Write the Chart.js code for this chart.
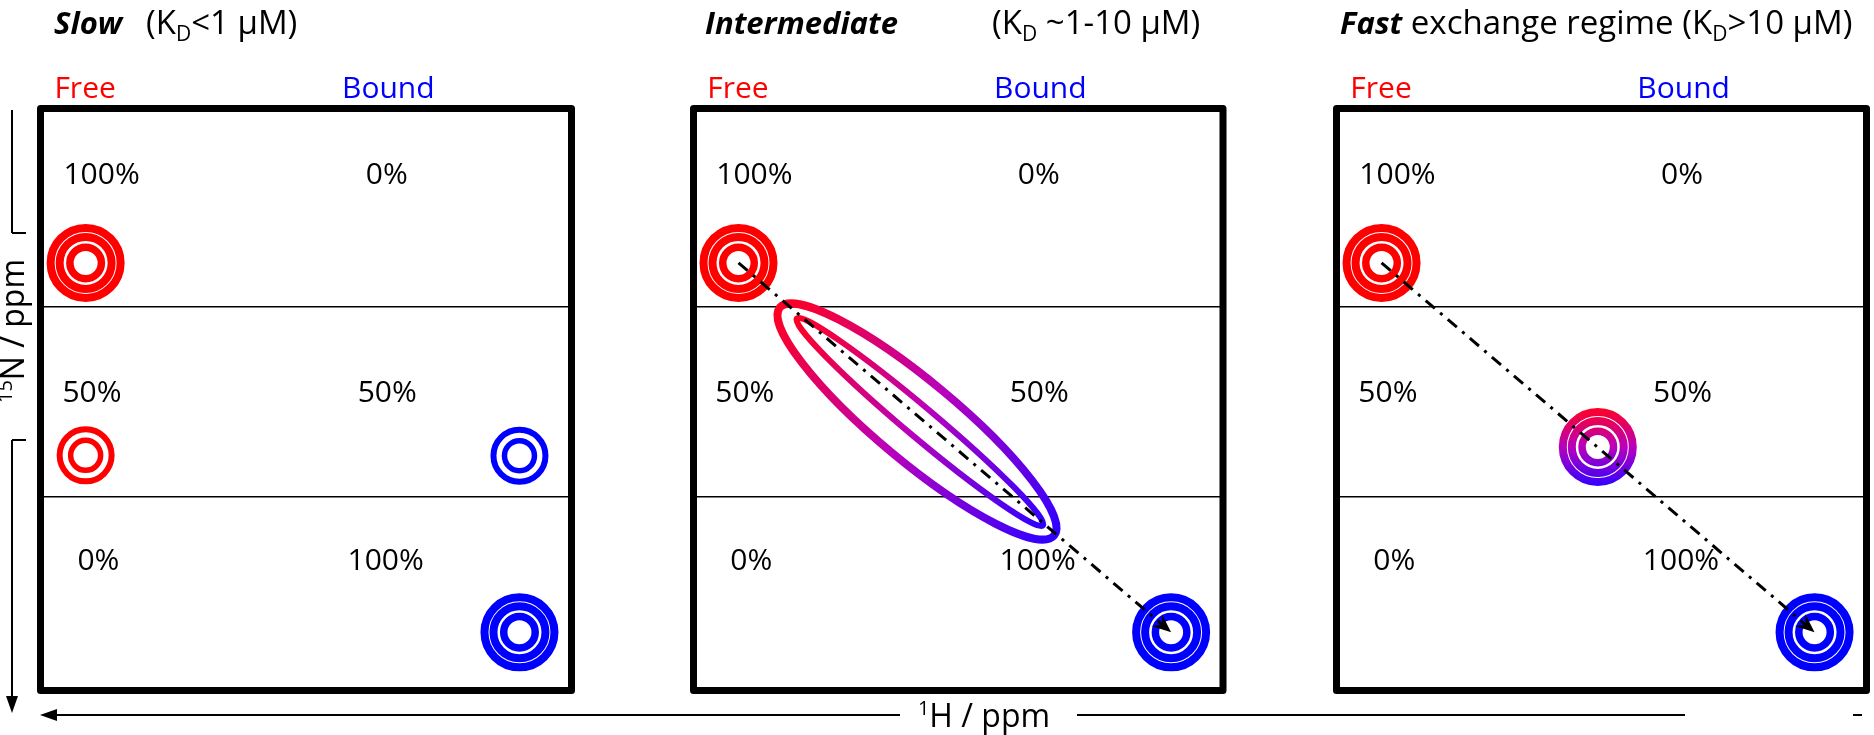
<!DOCTYPE html>
<html lang="en">
<head>
<meta charset="utf-8">
<title>Exchange regimes in 1H-15N HSQC titrations</title>
<script src="https://cdn.jsdelivr.net/npm/chart.js@4.4.1/dist/chart.umd.min.js"></script>
<style>
  html, body { margin: 0; padding: 0; background: #ffffff; }
  #stage { position: relative; width: 1874px; height: 735px; overflow: hidden; }
  .panel { position: absolute; }
  #annotations { position: absolute; left: 0; top: 0; pointer-events: none; }
  #annotations text { font-family: "Open Sans", "DejaVu Sans", sans-serif; fill: #000; }
  #annotations .t { font-size: 33px; }
  #annotations .tb { font-size: 31px; font-weight: 700; font-style: italic; }
  #annotations .ax { font-size: 32px; }
</style>
</head>
<body>
<div id="stage">
  <svg id="annotations" width="1874" height="735"></svg>
</div>
<script>
// ---------------- data ----------------
// Exchange regimes, one panel each
const regimeNames = ['Slow', 'Intermediate', 'Fast'];
const regimeNoteLead = ['(K', '(K', 'exchange regime (K'];
const regimeNoteSub = ['D', 'D', 'D'];
const regimeNoteTail = ['<1 \u03bcM)', ' ~1-10 \u03bcM)', '>10 \u03bcM)'];

// Column headers (state of the protein) and their 1H positions
const stateNames = ['Free', 'Bound'];
const stateNameX = [8.4, 65.5];

// Titration steps: population of free / bound protein
const fractionFree = ['100%', '50%', '0%'];
const fractionBound = ['0%', '50%', '100%'];
const fractionRowY = [33.2, 145.6, 232.5];
const fractionFreeX = [11.5, 9.7, 10.9];
const fractionBoundX = [65.2, 65.3, 65.0];

// 15N extent of each titration step (three steps stacked)
const stepBounds = [0, 102, 200, 300];

// Peak positions (1H, 15N) in panel units
const peakFree = { x: 8.5, y: 79.6 };
const peakBound = { x: 90.2, y: 270.0 };
const slowHalfFree = { x: 8.5, y: 178.8 };
const slowHalfBound = { x: 90.2, y: 179.0 };
const fastHalf = { x: 49.3, y: 174.5 };
// Broadened intermediate-exchange contours: ends of the long axis
const broadOuterTips = [{ x: 16.3, y: 102.6 }, { x: 68.1, y: 220.1 }];
const broadInnerTips = [{ x: 19.5, y: 108.2 }, { x: 66.0, y: 214.9 }];

// ---------------- styles ----------------
const RED = '#ff0000', BLUE = '#0000ff', INK = '#000000', MIXED = 'mixed';
const FONT_FAMILY = '"Open Sans", "DejaVu Sans", sans-serif';
const LABEL_PX = 30;
const CAP_HALF = 0.357 * LABEL_PX;
const strongContours = [{ r: 35, w: 8 }, { r: 26, w: 8 }, { r: 15.75, w: 7.5 }];
const weakContours = [{ r: 26, w: 6 }, { r: 15, w: 5.5 }];
const TARGET_REACH = 39;
const frames = [
  { left: 40.5, right: 571.5 },
  { left: 693.5, right: 1223 },
  { left: 1336.5, right: 1866.5 }
];
const frameTop = 108.5, frameBottom = 690.5, frameWidth = 7;

function exchangeGradient(ctx, x0, y0, x1, y1) {
  const g = ctx.createLinearGradient(x0, y0, x1, y1);
  g.addColorStop(0, '#ff0022');
  g.addColorStop(0.5, '#b800bc');
  g.addColorStop(1, '#3000ff');
  return g;
}

function contourColor(c, colors) {
  if (c.type !== 'data') return colors[0];
  const col = colors[c.dataIndex];
  if (col !== MIXED) return col;
  const chart = c.chart;
  const py = chart.scales.y ? chart.scales.y.getPixelForValue(c.raw.y) : NaN;
  if (!isFinite(py)) return '#b800bc';
  return exchangeGradient(chart.ctx, 0, py - TARGET_REACH, 0, py + TARGET_REACH);
}

function contourSets(peaks, colors, levels) {
  return levels.map(lv => ({
    data: peaks,
    showLine: false,
    clip: false,
    pointRadius: lv.r,
    pointHoverRadius: lv.r,
    pointBorderWidth: lv.w,
    pointHoverBorderWidth: lv.w,
    pointBackgroundColor: 'rgba(0,0,0,0)',
    pointBorderColor: c => contourColor(c, colors)
  }));
}

function exchangePath(from, to) {
  return {
    data: [from, to],
    showLine: true,
    clip: false,
    borderColor: INK,
    borderWidth: 3,
    borderDash: [12, 7, 3, 7],
    pointRadius: 0,
    pointHoverRadius: 0,
    arrowHead: true
  };
}

const titrationPlugin = {
  id: 'titration',
  beforeDatasetsDraw(chart, args, opts) {
    const { ctx, chartArea, scales: { x, y } } = chart;
    ctx.save();
    (opts.ellipses || []).forEach(e => {
      const p0 = { x: x.getPixelForValue(e.tips[0].x), y: y.getPixelForValue(e.tips[0].y) };
      const p1 = { x: x.getPixelForValue(e.tips[1].x), y: y.getPixelForValue(e.tips[1].y) };
      const cx = (p0.x + p1.x) / 2, cy = (p0.y + p1.y) / 2;
      const a = Math.hypot(p1.x - p0.x, p1.y - p0.y) / 2;
      const ang = Math.atan2(p1.y - p0.y, p1.x - p0.x);
      ctx.beginPath();
      ctx.ellipse(cx, cy, a, e.halfWidth, ang, 0, Math.PI * 2);
      ctx.strokeStyle = exchangeGradient(ctx, p0.x, p0.y, p1.x, p1.y);
      ctx.lineWidth = e.lineWidth;
      ctx.stroke();
    });
    ctx.font = `${LABEL_PX}px ${FONT_FAMILY}`;
    ctx.textAlign = 'center';
    ctx.textBaseline = 'alphabetic';
    ctx.fillStyle = INK;
    fractionRowY.forEach((ry, i) => {
      const py = y.getPixelForValue(ry) + CAP_HALF;
      ctx.fillText(fractionFree[i], x.getPixelForValue(fractionFreeX[i]), py);
      ctx.fillText(fractionBound[i], x.getPixelForValue(fractionBoundX[i]), py);
    });
    stateNames.forEach((name, i) => {
      ctx.fillStyle = i === 0 ? RED : BLUE;
      ctx.fillText(name, x.getPixelForValue(stateNameX[i]), chartArea.top - 21.5 + CAP_HALF);
    });
    ctx.restore();
  },
  afterDatasetsDraw(chart) {
    const ctx = chart.ctx;
    chart.data.datasets.forEach((ds, i) => {
      if (!ds.arrowHead) return;
      const pts = chart.getDatasetMeta(i).data;
      const a = pts[pts.length - 2], b = pts[pts.length - 1];
      const ang = Math.atan2(b.y - a.y, b.x - a.x);
      const L = 19, W = 8, N = 12;
      const cos = Math.cos(ang), sin = Math.sin(ang);
      ctx.save();
      ctx.fillStyle = INK;
      ctx.beginPath();
      ctx.moveTo(b.x, b.y);
      ctx.lineTo(b.x - L * cos - W * sin, b.y - L * sin + W * cos);
      ctx.lineTo(b.x - N * cos, b.y - N * sin);
      ctx.lineTo(b.x - L * cos + W * sin, b.y - L * sin - W * cos);
      ctx.closePath();
      ctx.fill();
      ctx.restore();
    });
  },
  afterDraw(chart) {
    const { ctx, chartArea: ca } = chart;
    ctx.save();
    ctx.strokeStyle = INK;
    ctx.lineWidth = frameWidth;
    ctx.lineJoin = 'round';
    ctx.strokeRect(ca.left, ca.top, ca.right - ca.left, ca.bottom - ca.top);
    ctx.restore();
  }
};

const stage = document.getElementById('stage');

function makePanel(frame, datasets, extras) {
  const wrap = document.createElement('div');
  wrap.className = 'panel';
  const wl = Math.floor(frame.left) - 12, wr = Math.ceil(frame.right) + 12;
  const wt = 60, wb = 702;
  Object.assign(wrap.style, {
    left: wl + 'px', top: wt + 'px', width: (wr - wl) + 'px', height: (wb - wt) + 'px'
  });
  const canvas = document.createElement('canvas');
  wrap.appendChild(canvas);
  stage.insertBefore(wrap, stage.firstChild);
  return new Chart(canvas, {
    type: 'scatter',
    data: { datasets },
    options: {
      responsive: true,
      maintainAspectRatio: false,
      animation: false,
      events: [],
      layout: {
        autoPadding: false,
        padding: {
          left: frame.left - wl, right: wr - frame.right,
          top: frameTop - wt, bottom: wb - frameBottom
        }
      },
      plugins: {
        legend: { display: false },
        tooltip: { enabled: false },
        titration: extras
      },
      scales: {
        x: { type: 'linear', min: 0, max: 100, display: false },
        y: {
          type: 'linear', min: 0, max: 300, reverse: true,
          afterBuildTicks: s => { s.ticks = stepBounds.map(v => ({ value: v })); },
          afterFit: s => { s.width = 0; },
          ticks: { display: false },
          border: { display: false },
          grid: { color: INK, lineWidth: 1.6, drawTicks: false }
        }
      }
    },
    plugins: [titrationPlugin]
  });
}

// Slow exchange: separate free and bound peaks, intensities follow populations
makePanel(frames[0], [
  ...contourSets([peakFree, peakBound], [RED, BLUE], strongContours),
  ...contourSets([slowHalfFree, slowHalfBound], [RED, BLUE], weakContours)
], {});

// Intermediate exchange: broadened signal along the exchange path
makePanel(frames[1], [
  exchangePath(peakFree, peakBound),
  ...contourSets([peakFree, peakBound], [RED, BLUE], strongContours)
], {
  ellipses: [
    { tips: broadOuterTips, halfWidth: 40, lineWidth: 8 },
    { tips: broadInnerTips, halfWidth: 15, lineWidth: 6 }
  ]
});

// Fast exchange: one population-weighted peak
makePanel(frames[2], [
  exchangePath(peakFree, peakBound),
  ...contourSets([peakFree, fastHalf, peakBound], [RED, MIXED, BLUE], strongContours)
], {});

// ---------------- titles and spectrum axes ----------------
function esc(s) {
  return s.replace(/&/g, '&amp;').replace(/</g, '&lt;').replace(/>/g, '&gt;');
}
const titleX = [54, 705, 1340];
const noteX = [146, 992, null];
const titleBaseline = 34;
let markup = '';
regimeNames.forEach((name, i) => {
  const note = `${esc(regimeNoteLead[i])}<tspan font-size="21" dy="7">${regimeNoteSub[i]}</tspan><tspan dy="-7">${esc(regimeNoteTail[i])}</tspan>`;
  if (noteX[i] === null) {
    markup += `<text class="t" x="${titleX[i]}" y="${titleBaseline}"><tspan class="tb">${name}</tspan> ${note}</text>`;
  } else {
    markup += `<text class="tb" x="${titleX[i]}" y="${titleBaseline}">${name}</text>`;
    markup += `<text class="t" x="${noteX[i]}" y="${titleBaseline}">${note}</text>`;
  }
});

// 15N axis (points down)
markup += '<g stroke="#000" stroke-width="2">' +
  '<line x1="12" y1="110" x2="12" y2="233"/>' +
  '<line x1="12" y1="233" x2="26" y2="233"/>' +
  '<line x1="12" y1="440" x2="26" y2="440"/>' +
  '<line x1="12" y1="440" x2="12" y2="700"/>' +
  '</g>';
markup += '<polygon points="12,713 6,696 18,696" fill="#000"/>';
markup += '<text class="ax" text-anchor="middle" transform="translate(24,331) rotate(-90)"><tspan font-size="20" dy="-12">15</tspan><tspan dy="12">N / ppm</tspan></text>';

// 1H axis (points left)
markup += '<g stroke="#000" stroke-width="2">' +
  '<line x1="52" y1="715" x2="900" y2="715"/>' +
  '<line x1="1077" y1="715" x2="1685" y2="715"/>' +
  '<line x1="1853" y1="715" x2="1862" y2="715"/>' +
  '</g>';
markup += '<polygon points="40,715 57,709 57,721" fill="#000"/>';
markup += '<text class="ax" text-anchor="middle" x="984" y="727"><tspan font-size="20" dy="-12">1</tspan><tspan dy="12">H / ppm</tspan></text>';

document.getElementById('annotations').innerHTML = markup;
</script>
</body>
</html>
